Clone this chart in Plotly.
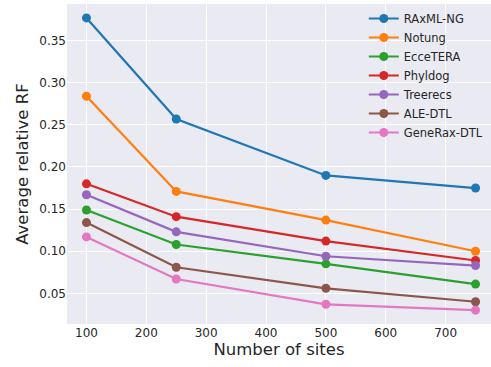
import plotly.graph_objects as go

sites = [100, 250, 500, 750]
methods = ["RAxML-NG", "Notung", "EcceTERA", "Phyldog", "Treerecs", "ALE-DTL", "GeneRax-DTL"]
raxml = [0.377, 0.257, 0.190, 0.175]
notung = [0.284, 0.171, 0.137, 0.100]
eccetera = [0.149, 0.108, 0.085, 0.061]
phyldog = [0.180, 0.141, 0.112, 0.089]
treerecs = [0.167, 0.123, 0.094, 0.083]
ale_dtl = [0.134, 0.081, 0.056, 0.040]
generax = [0.117, 0.067, 0.037, 0.030]
series = [raxml, notung, eccetera, phyldog, treerecs, ale_dtl, generax]
colors = ["#1f77b4", "#ff7f0e", "#2ca02c", "#d62728", "#9467bd", "#8c564b", "#e377c2"]
yticks = [0.05, 0.10, 0.15, 0.20, 0.25, 0.30, 0.35]
xticks = [100, 200, 300, 400, 500, 600, 700]

fig = go.Figure()
for name, vals, c in zip(methods, series, colors):
    fig.add_trace(go.Scatter(
        x=sites, y=vals, name=name, mode="lines+markers",
        line=dict(color=c, width=2.2),
        marker=dict(color=c, size=9),
    ))

font = "DejaVu Sans"
fig.update_layout(
    width=491, height=367,
    margin=dict(l=67, r=0, t=4, b=43),
    paper_bgcolor="white",
    plot_bgcolor="#EAEAF2",
    font=dict(family=font, color="#262626", size=12),
    showlegend=True,
    legend=dict(
        x=0.70, y=1.0, xanchor="left", yanchor="top",
        bgcolor="rgba(0,0,0,0)", font=dict(size=11.5, color="#262626"),
        tracegroupgap=0, itemwidth=30,
    ),
    xaxis=dict(
        range=[67.5, 775.8], tickvals=xticks, ticktext=[str(v) for v in xticks],
        showgrid=True, gridcolor="white", gridwidth=1.2, zeroline=False,
        showline=False, ticks="", automargin=False,
        title=dict(text="Number of sites", font=dict(size=16.5, color="#262626"), standoff=4),
        tickfont=dict(size=12, color="#262626"),
    ),
    yaxis=dict(
        range=[0.0136, 0.3935], tickvals=yticks, ticktext=["%.2f" % v for v in yticks],
        showgrid=True, gridcolor="white", gridwidth=1.2, zeroline=False,
        showline=False, ticks="", automargin=False,
        title=dict(text="Average relative RF", font=dict(size=16.5, color="#262626"), standoff=6),
        tickfont=dict(size=12, color="#262626"),
    ),
)
fig.write_html("out.html", config={"displayModeBar": False})
with open("out.html", "r", encoding="utf-8") as f:
    html = f.read()
html = html.replace("<body>", "<body style=\"margin:0;padding:0;overflow:hidden\">", 1)
with open("out.html", "w", encoding="utf-8") as f:
    f.write(html)
